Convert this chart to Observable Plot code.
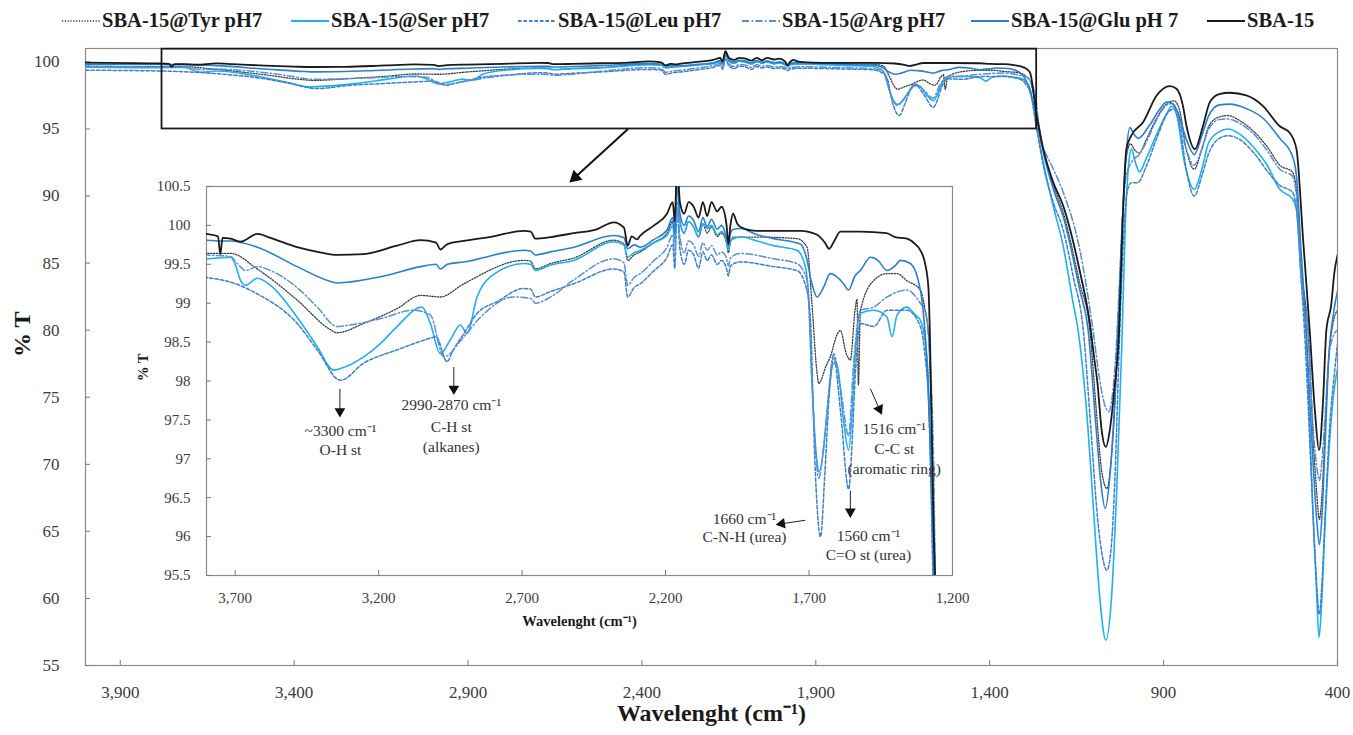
<!DOCTYPE html>
<html><head><meta charset="utf-8">
<script src="https://cdn.jsdelivr.net/npm/d3@7"></script>
<script src="https://cdn.jsdelivr.net/npm/@observablehq/plot@0.6"></script>
<style>
html,body{margin:0;padding:0;background:#fff;overflow:hidden;}
#wrap{position:relative;width:1353px;height:735px;overflow:hidden;font-family:"Liberation Serif",serif;}
#main{position:absolute;left:0;top:0;}
#inset{position:absolute;left:130px;top:170px;}
.lg{position:absolute;top:9px;display:flex;align-items:center;white-space:nowrap;font-weight:bold;font-size:20.5px;color:#1a1a1a;}
.lg svg{margin-right:2px;}
</style></head>
<body><div id="wrap"><div id="main"></div><div id="inset"></div></div>
<script>
// ---------- DATA ----------
const seriesNames = ["SBA-15@Tyr pH7","SBA-15@Ser pH7","SBA-15@Leu pH7","SBA-15@Arg pH7","SBA-15@Glu pH 7","SBA-15"];
const xTicksMain = [3900,3400,2900,2400,1900,1400,900,400];
const yTicksMain = [55,60,65,70,75,80,85,90,95,100];
const xTicksInset = [3700,3200,2700,2200,1700,1200];
const yTicksInset = [95.5,96,96.5,97,97.5,98,98.5,99,99.5,100,100.5];

const tyr = [[4000,99.68],[3800,99.64],[3716,99.64],[3623,99.44],[3484,99.04],[3368,98.66],[3345,98.62],[3252,98.74],[3136,98.93],[3054,99.10],[2985,99.08],[2903,99.25],[2694,99.55],[2670,99.54],[2654,99.44],[2601,99.51],[2520,99.58],[2381,99.81],[2345,99.76],[2332,99.55],[2310,99.62],[2288,99.66],[2240,99.78],[2195,99.90],[2175,100.05],[2168,99.8],[2160,100.5],[2150,100.05],[2135,99.9],[2120,100.05],[2102,99.98],[2085,99.85],[2070,100.02],[2055,99.90],[2040,99.98],[2020,99.86],[2005,99.9],[1988,99.78],[1981,99.65],[1974,99.78],[1963,99.85],[1881,99.85],[1742,99.83],[1707,99.72],[1690,99.0],[1672,98.1],[1666,97.97],[1640,98.2],[1626,98.31],[1602,98.6],[1591,98.65],[1570,98.35],[1556,98.27],[1540,98.9],[1533,99.05],[1528,97.95],[1521,98.9],[1475,99.29],[1428,99.38],[1393,99.38],[1359,99.29],[1312,99.17],[1295,98.9],[1284,98.6],[1265,96.3],[1246,93.5],[1217,90.8],[1189,88.8],[1141,83.5],[1112,80],[1095,74.5],[1078,69.5],[1063,68.2],[1050,70.5],[1040,74.5],[1031,80],[1020,87.5],[1008,92.8],[995,93.9],[985,93.5],[970,93.2],[950,94.2],[920,95.8],[890,96.9],[870,97.1],[855,96.5],[835,93.5],[812,92.0],[790,93.5],[770,95.2],[740,95.9],[715,96.0],[680,95.6],[640,94.8],[600,93.6],[566,92.3],[530,91.8],[518,90.5],[505,85],[485,80],[468,71],[460,68],[452,65.9],[444,68],[435,73],[425,78],[413,80.5],[400,81.5]];

const ser = [[4000,99.60],[3800,99.57],[3716,99.59],[3700,99.5],[3681,99.29],[3664,99.23],[3623,99.32],[3577,99.23],[3484,98.82],[3414,98.44],[3357,98.14],[3333,98.16],[3252,98.31],[3194,98.48],[3136,98.70],[3049,98.95],[3020,98.74],[2985,98.35],[2950,98.53],[2915,98.72],[2892,98.61],[2857,99.08],[2810,99.34],[2694,99.51],[2670,99.50],[2654,99.42],[2601,99.49],[2520,99.55],[2381,99.79],[2345,99.75],[2332,99.59],[2310,99.65],[2288,99.68],[2240,99.78],[2195,99.87],[2175,100.0],[2168,99.8],[2160,100.6],[2150,100.05],[2135,99.9],[2120,100.05],[2102,99.98],[2085,99.85],[2070,100.02],[2055,99.96],[2040,100.0],[2020,99.88],[2005,99.92],[1988,99.8],[1981,99.68],[1974,99.8],[1939,99.85],[1881,99.8],[1823,99.74],[1742,99.68],[1715,99.5],[1700,99.0],[1690,98.0],[1672,96.95],[1666,96.83],[1650,97.1],[1640,97.5],[1614,98.23],[1602,98.2],[1580,97.5],[1562,97.11],[1550,97.6],[1540,98.3],[1521,98.87],[1475,98.91],[1428,98.82],[1411,98.57],[1393,98.85],[1359,98.95],[1330,98.85],[1312,98.78],[1295,98.5],[1284,98.0],[1265,95.2],[1246,92.5],[1217,89.2],[1189,86.3],[1160,82],[1146,80],[1120,73.5],[1100,66],[1085,60.5],[1066,56.9],[1050,60],[1035,68],[1020,79],[1010,88],[1000,92.5],[993,93.5],[980,92.4],[970,91.8],[950,92.8],[920,94.6],[890,96.2],[877,96.7],[862,96.0],[840,92.5],[812,90.5],[790,92.0],[770,94.0],[740,94.8],[715,95.0],[680,94.6],[640,93.6],[600,92.2],[566,90.5],[530,89.8],[518,89.0],[505,84.5],[490,79.5],[470,66],[461,61],[453,57.1],[445,60],[435,66],[422,72],[410,75.5],[400,77.1]];

const leu = [[4000,99.38],[3800,99.33],[3716,99.27],[3623,99.12],[3484,98.74],[3414,98.40],[3333,98.01],[3252,98.23],[3136,98.40],[3020,98.55],[3000,98.57],[2962,98.25],[2940,98.4],[2903,98.61],[2857,98.87],[2787,99.02],[2694,99.19],[2670,99.18],[2654,99.08],[2601,99.15],[2520,99.25],[2381,99.44],[2345,99.40],[2332,99.08],[2310,99.2],[2288,99.25],[2240,99.42],[2195,99.59],[2175,99.75],[2168,99.45],[2160,100.2],[2150,99.7],[2135,99.5],[2120,99.68],[2102,99.62],[2085,99.45],[2070,99.66],[2055,99.55],[2040,99.62],[2020,99.5],[2005,99.55],[1988,99.45],[1981,99.35],[1974,99.48],[1939,99.53],[1823,99.47],[1742,99.42],[1710,99.2],[1695,98.78],[1680,97.0],[1660,96.0],[1645,96.8],[1630,97.8],[1614,98.31],[1590,97.6],[1562,96.61],[1550,97.2],[1540,98.0],[1521,98.74],[1475,98.70],[1428,98.91],[1359,98.91],[1312,98.70],[1295,98.3],[1284,97.8],[1265,95.0],[1246,92.3],[1217,89.5],[1189,87.5],[1160,84],[1131,80],[1110,73],[1090,66],[1075,63],[1063,62.1],[1050,64],[1040,69],[1026,80],[1015,87],[1005,90.3],[993,91.0],[975,91.0],[950,92.2],[920,94.3],[885,96.3],[870,96.5],[855,95.5],[835,92],[812,90.0],[790,91.5],[770,93.2],[740,94.3],[715,94.5],[680,94.2],[640,93.2],[600,91.8],[566,90.8],[530,90.3],[518,89],[505,84],[495,80],[475,69],[462,62],[452,58.8],[445,61],[435,66.5],[422,73],[410,76.5],[400,79]];

const arg = [[4000,99.65],[3800,99.62],[3716,99.6],[3690,99.5],[3664,99.42],[3623,99.47],[3577,99.42],[3484,99.2],[3414,98.95],[3345,98.70],[3300,98.72],[3194,98.80],[3078,98.91],[3020,98.85],[2973,98.31],[2903,98.57],[2845,98.82],[2729,99.08],[2670,99.06],[2654,99.0],[2601,99.08],[2520,99.3],[2381,99.57],[2345,99.52],[2332,99.23],[2310,99.33],[2288,99.38],[2240,99.55],[2195,99.72],[2175,99.88],[2168,99.6],[2160,100.3],[2150,99.85],[2135,99.65],[2120,99.8],[2102,99.75],[2085,99.6],[2070,99.78],[2055,99.68],[2040,99.74],[2020,99.62],[2005,99.66],[1988,99.58],[1981,99.48],[1974,99.58],[1939,99.64],[1823,99.57],[1742,99.51],[1707,99.3],[1690,98.0],[1666,96.75],[1645,97.3],[1614,98.35],[1590,97.9],[1562,97.3],[1545,98.2],[1521,98.91],[1475,98.95],[1428,99.08],[1359,99.17],[1312,99.0],[1295,98.9],[1284,98.6],[1265,96.8],[1256,94.3],[1246,93.6],[1217,92.0],[1189,90.3],[1141,86.0],[1103,80],[1085,76.5],[1070,74.5],[1058,73.9],[1048,75],[1038,78],[1028,83],[1018,88.5],[1008,91.5],[997,92.3],[985,92.8],[973,93.0],[950,94.0],[920,95.7],[890,96.8],[875,96.9],[860,96.2],[835,93.5],[812,92.3],[790,93.5],[770,95.0],[740,95.7],[715,95.75],[680,95.4],[640,94.6],[600,93.3],[566,92.0],[530,91.5],[518,90],[505,84],[485,80],[468,72],[458,69.5],[452,68.8],[444,70.5],[435,74],[425,78],[413,79.5],[400,80]];

const glu = [[4000,99.82],[3800,99.81],[3760,99.80],[3716,99.8],[3623,99.72],[3484,99.47],[3368,99.28],[3345,99.26],[3194,99.34],[3054,99.47],[3000,99.50],[2985,99.44],[2960,99.50],[2903,99.53],[2694,99.68],[2670,99.67],[2654,99.62],[2601,99.66],[2520,99.72],[2381,99.87],[2345,99.84],[2332,99.70],[2310,99.75],[2288,99.72],[2240,99.82],[2195,99.94],[2175,100.1],[2168,99.9],[2160,100.7],[2150,100.15],[2135,100.0],[2120,100.12],[2102,100.06],[2085,99.92],[2070,100.1],[2055,99.98],[2040,100.08],[2020,99.95],[2005,100.0],[1988,99.85],[1981,99.74],[1974,99.9],[1963,99.95],[1939,99.96],[1881,99.88],[1823,99.83],[1730,99.76],[1710,99.6],[1690,99.25],[1672,99.08],[1650,99.2],[1626,99.38],[1600,99.33],[1580,99.25],[1562,99.17],[1540,99.35],[1521,99.42],[1486,99.59],[1460,99.55],[1428,99.42],[1400,99.48],[1382,99.55],[1347,99.51],[1320,99.3],[1305,99.0],[1290,98.3],[1265,95.8],[1246,93.3],[1217,90.5],[1189,88.5],[1141,83],[1117,80],[1095,73],[1080,68.5],[1068,66.7],[1055,69],[1042,74],[1031,80],[1020,87],[1008,93],[997,95.1],[985,94.6],[973,94.3],[940,95.3],[910,96.5],[892,97.0],[875,96.9],[860,96.3],[834,94.2],[812,93.1],[790,94.5],[770,96.0],[740,96.8],[710,96.85],[660,96.5],[614,95.8],[566,94.3],[530,93.0],[518,91.5],[505,86],[490,80],[470,70],[460,66],[452,64.0],[444,66.5],[435,72],[425,78],[413,81],[400,82.9]];

const sba15 = [[4000,99.95],[3800,99.89],[3760,99.86],[3752,99.63],[3744,99.84],[3716,99.83],[3681,99.79],[3623,99.89],[3577,99.84],[3484,99.72],[3400,99.65],[3345,99.62],[3252,99.63],[3136,99.74],[3054,99.81],[3000,99.78],[2985,99.69],[2960,99.76],[2903,99.80],[2800,99.86],[2694,99.93],[2670,99.92],[2654,99.83],[2601,99.85],[2520,99.90],[2440,99.95],[2381,100.04],[2345,99.97],[2332,99.74],[2318,99.86],[2300,99.82],[2288,99.87],[2240,100.0],[2195,100.15],[2175,100.3],[2168,100.05],[2160,100.8],[2150,100.3],[2135,100.15],[2120,100.3],[2102,100.24],[2085,100.1],[2070,100.3],[2055,100.12],[2040,100.3],[2020,100.18],[2005,100.24],[1988,100.02],[1981,99.76],[1974,100.0],[1965,100.15],[1950,100.02],[1939,99.98],[1881,99.93],[1823,99.93],[1730,99.93],[1672,99.88],[1645,99.78],[1630,99.70],[1612,99.8],[1591,99.92],[1520,99.92],[1430,99.9],[1400,99.85],[1359,99.83],[1330,99.76],[1312,99.68],[1295,99.5],[1284,99.2],[1265,96.0],[1246,93.5],[1217,91.0],[1189,89.3],[1141,84.4],[1112,80.5],[1100,78],[1090,76],[1078,72.5],[1066,71.3],[1055,72.5],[1042,75.5],[1028,80],[1018,88],[1007,93.5],[993,94.5],[959,95.5],[920,97.5],[882,98.2],[863,98.0],[845,96.8],[834,95.2],[810,93.5],[787,95.2],[767,97.0],[740,97.6],[710,97.7],[662,97.5],[614,96.7],[566,95.2],[537,94.7],[518,93.5],[499,86.8],[480,80],[465,74],[453,71.05],[442,74.5],[432,80],[418,81.9],[409,84.3],[400,85.6]];

const zoomBox = [{x1:3780, x2:1265, y1:95, y2:100.95}];
const zoomArrow = [{x1:2440, y1:95, x2:2592, y2:91.4}];
const insetNotes = [
  {x:3333, y:97.36, text:"~3300 cm⁻¹"},
  {x:3333, y:97.11, text:"O-H st"},
  {x:2947, y:97.69, text:"2990-2870 cm⁻¹"},
  {x:2947, y:97.41, text:"C-H st"},
  {x:2947, y:97.15, text:"(alkanes)"},
  {x:1403, y:97.38, text:"1516 cm⁻¹"},
  {x:1403, y:97.12, text:"C-C st"},
  {x:1403, y:96.87, text:"(aromatic ring)"},
  {x:1925, y:96.23, text:"1660 cm⁻¹"},
  {x:1925, y:95.99, text:"C-N-H (urea)"},
  {x:1493, y:96.01, text:"1560 cm⁻¹"},
  {x:1493, y:95.76, text:"C=O st (urea)"}
];
const insetArrows = [
  {x1:3335, y1:97.90, x2:3335, y2:97.61},
  {x1:2938, y1:98.18, x2:2938, y2:97.90},
  {x1:1486, y1:97.90, x2:1455, y2:97.64},
  {x1:1713, y1:96.21, x2:1795, y2:96.165},
  {x1:1556, y1:96.59, x2:1556, y2:96.32}
];

// ---------- STYLE ----------
const headAngles = [180, 180, 155, 261, 180];
const styles = [
  {stroke:"#3a3a3a", dash:"1.2,1.6", width:1.3},
  {stroke:"#1fb0ee", dash:null, width:1.6},
  {stroke:"#3d7fcc", dash:"3.5,2", width:1.5},
  {stroke:"#5a8fd4", dash:"7,2.5,1.5,2.5", width:1.5},
  {stroke:"#2a7fcf", dash:null, width:1.6},
  {stroke:"#1a1a1a", dash:null, width:1.8}
];
const legendLefts = [62, 291, 518, 742, 971, 1207];
const FONT = "Liberation Serif, serif";

const allSeries = [tyr, ser, leu, arg, glu, sba15].map(s => d3.sort(s, p => -p[0]));

function lineMarks(scaleW) {
  return allSeries.map((s, i) => Plot.line(s, {
    x: p => p[0], y: p => p[1],
    stroke: styles[i].stroke, strokeWidth: styles[i].width * scaleW,
    strokeDasharray: styles[i].dash, curve: "monotone-x", clip: true
  }));
}

// ---------- MAIN ----------
const W = 1353, H = 735, mL = 85, mR = 16, mT = 48, mB = 70;
const main = Plot.plot({
  width: W, height: H, marginLeft: mL, marginRight: mR, marginTop: mT, marginBottom: mB,
  x: {domain: [4000, 400]},
  y: {domain: [55, 101]},
  style: {fontFamily: FONT, fontSize: "17px", color: "#3c3c3c", background: "transparent"},
  marks: [
    Plot.frame({stroke: "#8a8a8a", strokeWidth: 1.2}),
    Plot.axisX({ticks: xTicksMain, tickFormat: d3.format(","), tickSize: 0, tickPadding: 20, label: null}),
    Plot.axisY({ticks: yTicksMain, tickSize: 0, tickPadding: 26, label: null}),
    Plot.tickX(xTicksMain, {x: d => d, insetTop: H - mT - mB - 5, stroke: "#777"}),
    Plot.tickY(yTicksMain, {y: d => d, insetRight: W - mL - mR - 5, stroke: "#777"}),
    ...lineMarks(1),
    Plot.rect(zoomBox, {x1: "x1", x2: "x2", y1: "y1", y2: "y2", fill: "none", stroke: "#1a1a1a", strokeWidth: 1.8}),
    Plot.link(zoomArrow, {x1: "x1", y1: "y1", x2: "x2", y2: "y2", stroke: "#111", strokeWidth: 2}),
    Plot.dot(zoomArrow, {x: "x2", y: "y2", symbol: "triangle", r: 5, fill: "#111", stroke: "none", rotate: 228}),
    Plot.text(["Wavelenght (cm⁻¹)"], {text: d => d, frameAnchor: "bottom", dy: 55, fontSize: 24, fontWeight: "bold", fill: "#1a1a1a"}),
    Plot.text(["% T"], {text: d => d, frameAnchor: "left", dx: -63, rotate: -90, fontSize: 24, fontWeight: "bold", fill: "#1a1a1a"})
  ]
});
document.getElementById("main").appendChild(main);

// ---------- INSET ----------
const iW = 860, iH = 470, imL = 76, imR = 38, imT = 16, imB = 65;
const inset = Plot.plot({
  width: iW, height: iH, marginLeft: imL, marginRight: imR, marginTop: imT, marginBottom: imB,
  x: {domain: [3800, 1200]},
  y: {domain: [95.5, 100.5]},
  style: {fontFamily: FONT, fontSize: "15px", color: "#3c3c3c", background: "transparent"},
  marks: [
    Plot.frame({stroke: "#8a8a8a", strokeWidth: 1.2}),
    Plot.axisX({ticks: xTicksInset, tickFormat: d3.format(","), tickSize: 0, tickPadding: 17, label: null}),
    Plot.axisY({ticks: yTicksInset, tickFormat: d => String(d), tickSize: 0, tickPadding: 16, label: null}),
    Plot.tickX(xTicksInset, {x: d => d, insetTop: iH - imT - imB - 5, stroke: "#777"}),
    Plot.tickY(yTicksInset, {y: d => d, insetRight: iW - imL - imR - 5, stroke: "#777"}),
    ...lineMarks(1),
    Plot.link(insetArrows, {x1: "x1", y1: "y1", x2: "x2", y2: "y2", stroke: "#222", strokeWidth: 1}),
    Plot.dot(insetArrows, {x: "x2", y: "y2", symbol: "triangle", r: 4, fill: "#111", stroke: "none", rotate: (d, i) => headAngles[i]}),
    Plot.text(insetNotes, {x: "x", y: "y", text: "text", fontSize: 15.5, fill: "#333"}),
    Plot.text(["Wavelenght (cm⁻¹)"], {text: d => d, frameAnchor: "bottom", dy: 50, fontSize: 14.5, fontWeight: "bold", fill: "#1a1a1a"}),
    Plot.text(["% T"], {text: d => d, frameAnchor: "left", dx: -63, rotate: -90, fontSize: 14.5, fontWeight: "bold", fill: "#1a1a1a"})
  ]
});
document.getElementById("inset").appendChild(inset);

// ---------- LEGEND ----------
const wrap = document.getElementById("wrap");
seriesNames.forEach((name, i) => {
  const item = document.createElement("div");
  item.className = "lg";
  item.style.left = legendLefts[i] + "px";
  const s = styles[i];
  item.innerHTML = `<svg width="38" height="12"><line x1="0" x2="38" y1="6" y2="6" stroke="${s.stroke}" stroke-width="${s.width + 0.3}" ${s.dash ? `stroke-dasharray="${s.dash}"` : ""}/></svg><span>${name}</span>`;
  wrap.appendChild(item);
});
</script>
</body></html>
